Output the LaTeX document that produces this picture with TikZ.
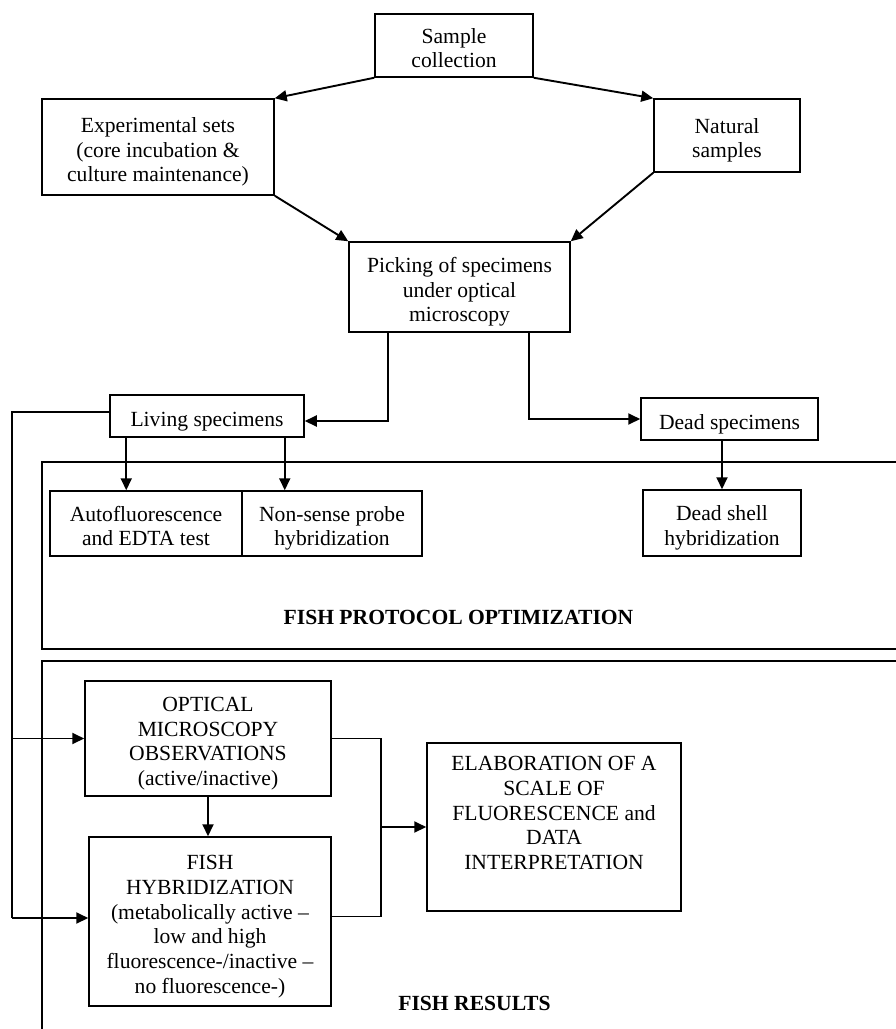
\documentclass[tikz,border=0pt]{standalone}
\usepackage{fontspec}
\setmainfont{Liberation Serif}
\usetikzlibrary{arrows.meta}
\newcommand{\ts}{\rule{0pt}{26pt}}
\newcommand{\bs}{\rule[-6pt]{0pt}{6pt}}
\begin{document}
\begin{tikzpicture}[x=1pt,y=-1pt,
  box/.style={draw,line width=1.5pt,inner sep=0pt,align=center,
    font=\fontsize{21.6}{24.8}\selectfont},
  lbl/.style={inner sep=0pt,align=center,font=\fontsize{21.6}{24.8}\selectfont},
  ttl/.style={inner sep=0pt,font=\fontsize{21.6}{24.8}\selectfont\bfseries},
  conn/.style={line width=1.9pt},
  arr/.style={conn,-{Triangle[length=12pt,width=11pt]}},
  frame/.style={line width=1.5pt}]
\useasboundingbox (0,0) rectangle (896,1029);
\fill[white] (0,0) rectangle (896,1029);

% frames
\draw[frame] (896,462) -- (42,462) -- (42,649) -- (896,649);
\draw[frame] (896,661) -- (42,661) -- (42,1029);

% nodes
\node[box,minimum width=158pt,minimum height=63pt] (sample) at (454,45.5) {\ts Sample\\collection\bs};
\node[box,minimum width=232pt,minimum height=96pt] (exper) at (158,147) {\ts Experimental sets\\(core incubation \&\\culture maintenance)\bs};
\node[box,minimum width=146pt,minimum height=73pt] (natural) at (727,135.5) {\ts Natural\\samples\bs};
\node[box,minimum width=221pt,minimum height=90pt] (picking) at (459.5,287) {\ts Picking of specimens\\under optical\\microscopy\bs};
\node[box,minimum width=194pt,minimum height=42pt] (living) at (207,416) {\ts Living specimens\bs};
\node[box,minimum width=177pt,minimum height=42pt] (dead) at (729.5,419) {\ts Dead specimens\bs};
\node[box,minimum width=192pt,minimum height=65pt] (auto) at (146,523.5) {\ts Autofluorescence\\and EDTA test\bs};
\node[box,minimum width=180pt,minimum height=65pt] (nonsense) at (332,523.5) {\ts Non-sense probe\\hybridization\bs};
\node[box,minimum width=158pt,minimum height=66pt] (deadshell) at (722,523) {\ts Dead shell\\hybridization\bs};
\node[box,minimum width=246pt,minimum height=115pt] (optical) at (208,738.5) {\ts OPTICAL\\MICROSCOPY\\OBSERVATIONS\\(active/inactive)\bs};
\node[box,minimum width=242pt,minimum height=169pt] (fishhyb) at (210,921.5) {\ts FISH\\HYBRIDIZATION\\(metabolically active --\\low and high\\fluorescence-/inactive --\\no fluorescence-)\bs};
\node[box,minimum width=254pt,minimum height=168pt] (elab) at (554,827) {};
\node[lbl] (elabtext) at ([yshift=14pt]elab.center) {ELABORATION OF A\\SCALE OF\\FLUORESCENCE and\\DATA\\INTERPRETATION};

\node[ttl] (protocol) at (458.5,617) {FISH PROTOCOL OPTIMIZATION};
\node[ttl] (results) at (474.5,1003) {FISH RESULTS};

% connectors top
\draw[arr] (sample.south west) -- (exper.north east);
\draw[arr] (sample.south east) -- (natural.north west);
\draw[arr] (exper.south east) -- (picking.north west);
\draw[arr] (natural.south west) -- (picking.north east);

% picking to living / dead
\coordinate (pl) at ([xshift=40pt]picking.south west);
\coordinate (pr) at ([xshift=-42pt]picking.south east);
\coordinate (le) at ([yshift=-5pt]living.east);
\draw[arr] (pl) |- (le);
\draw[arr] (pr) |- (dead.west);

% living to tests
\coordinate (l1) at ([xshift=17pt]living.south west);
\coordinate (l2) at ([xshift=-20pt]living.south east);
\draw[arr] (l1) -- (l1 |- auto.north);
\draw[arr] (l2) -- (l2 |- nonsense.north);
\draw[arr] (deadshell.north |- dead.south) -- (deadshell.north);

% living to results (outer loop)
\coordinate (lw) at ([yshift=4pt]living.west);
\coordinate (lt) at (12,412);
\coordinate (lb) at (12,918);
\draw[conn] (lw) -- (lt) -- (lb);
\draw[arr] (lb) -- (lb -| fishhyb.west);
\draw[arr] (lt |- optical.west) -- (optical.west);

% results
\draw[arr] (optical.south) -- (optical.south |- fishhyb.north);
\coordinate (mj) at (381,827);
\coordinate (fe) at ([yshift=5pt]fishhyb.east);
\draw[conn] (optical.east) -| (mj);
\draw[conn] (fe) -| (mj);
\draw[arr] (mj) -- (elab.west);
\end{tikzpicture}
\end{document}
